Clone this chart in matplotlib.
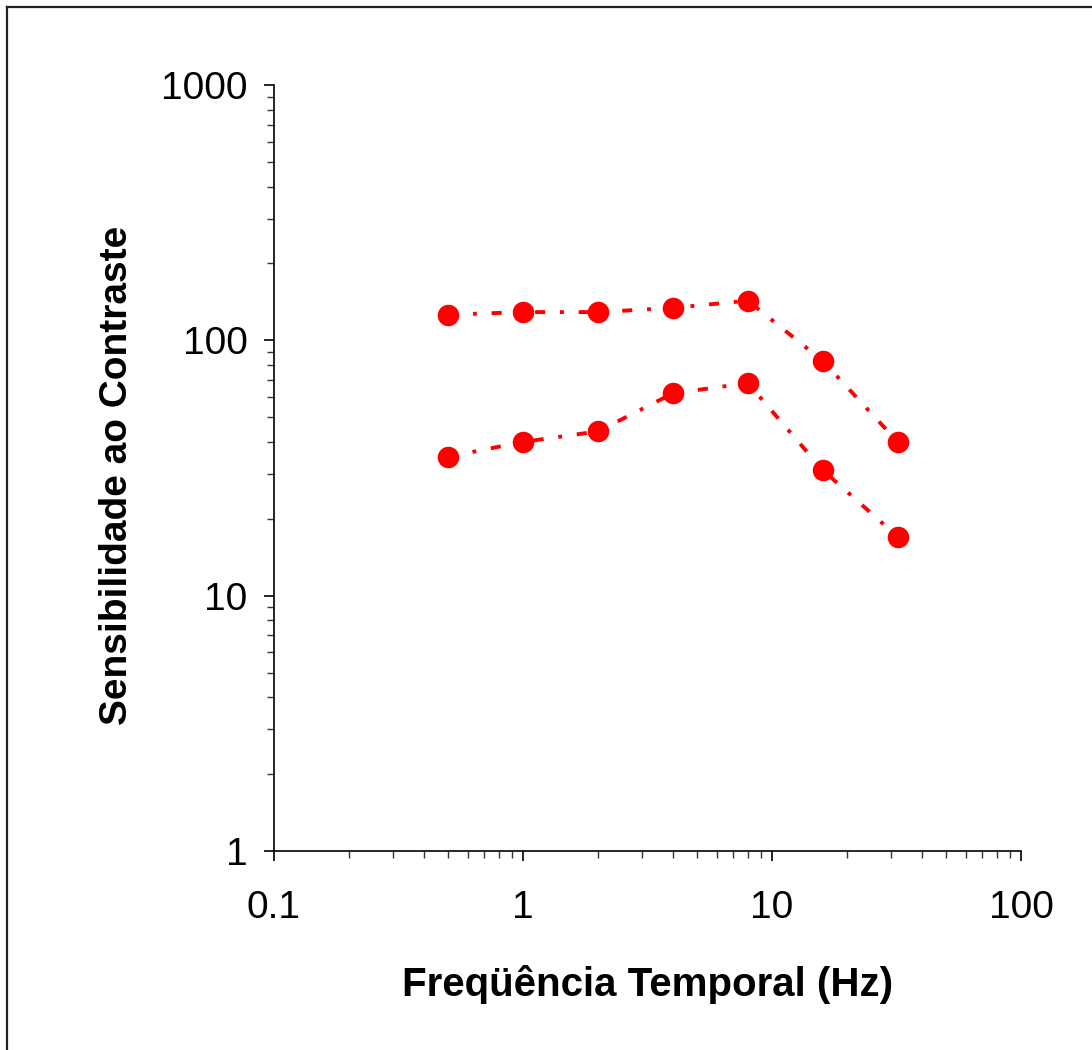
import numpy as np
import matplotlib
matplotlib.use("Agg")
import matplotlib.pyplot as plt
from matplotlib.lines import Line2D
from matplotlib.ticker import LogLocator, FixedLocator, FixedFormatter, NullFormatter

plt.rcParams['font.family'] = ['Liberation Sans', 'DejaVu Sans']

freq = [0.5, 1, 2, 4, 8, 16, 32]
upper = [126, 129, 129, 134, 143, 83, 40]
lower = [35, 40, 44, 62, 68, 31, 17]

xticks = [0.1, 1, 10, 100]
xticklabels = ["0.1", "1", "10", "100"]
yticks = [1, 10, 100, 1000]
yticklabels = ["1", "10", "100", "1000"]

fig = plt.figure(figsize=(10.92, 10.50), dpi=100)
ax = fig.add_axes([274 / 1092, 1 - 851 / 1050, (1021 - 274) / 1092, (851 - 85) / 1050])

style = dict(color="#ff0000", linestyle=(0, (2.6, 3.8, 1.0, 3.8)), linewidth=2.8,
             marker="o", markersize=15.5, markeredgewidth=0, clip_on=False)
ax.plot(freq, upper, **style)
ax.plot(freq, lower, **style)

ax.set_xscale("log")
ax.set_yscale("log")
ax.set_xlim(0.1, 100)
ax.set_ylim(1, 1000)

for s in ("top", "right"):
    ax.spines[s].set_visible(False)
for s in ("left", "bottom"):
    ax.spines[s].set_linewidth(1.2)

ax.xaxis.set_major_locator(FixedLocator(xticks))
ax.xaxis.set_major_formatter(FixedFormatter(xticklabels))
ax.yaxis.set_major_locator(FixedLocator(yticks))
ax.yaxis.set_major_formatter(FixedFormatter(yticklabels))
ax.xaxis.set_minor_locator(LogLocator(base=10, subs=np.arange(2, 10)))
ax.yaxis.set_minor_locator(LogLocator(base=10, subs=np.arange(2, 10)))
ax.xaxis.set_minor_formatter(NullFormatter())
ax.yaxis.set_minor_formatter(NullFormatter())

ax.tick_params(axis="x", which="major", direction="out", length=7, width=1.2,
               labelsize=28, pad=21)
ax.tick_params(axis="y", which="major", direction="out", length=7, width=1.2,
               labelsize=28, pad=12)
ax.tick_params(which="minor", direction="out", length=5, width=1.0, color="#333333")

ax.set_xlabel("Freqüência Temporal (Hz)", fontsize=29, fontweight="bold", labelpad=28)
ax.set_ylabel("Sensibilidade ao Contraste", fontsize=28, fontweight="bold")
ax.yaxis.set_label_coords(-0.186, 0.49)

# outer frame (left and top edges)
fig.add_artist(Line2D([6.5 / 1092, 6.5 / 1092], [0, 1 - 6.5 / 1050], transform=fig.transFigure,
                      color="#222222", linewidth=1.6))
fig.add_artist(Line2D([6.5 / 1092, 1], [1 - 6.5 / 1050, 1 - 6.5 / 1050], transform=fig.transFigure,
                      color="#222222", linewidth=1.6))

fig.savefig("out.png", dpi=100, facecolor="white")
